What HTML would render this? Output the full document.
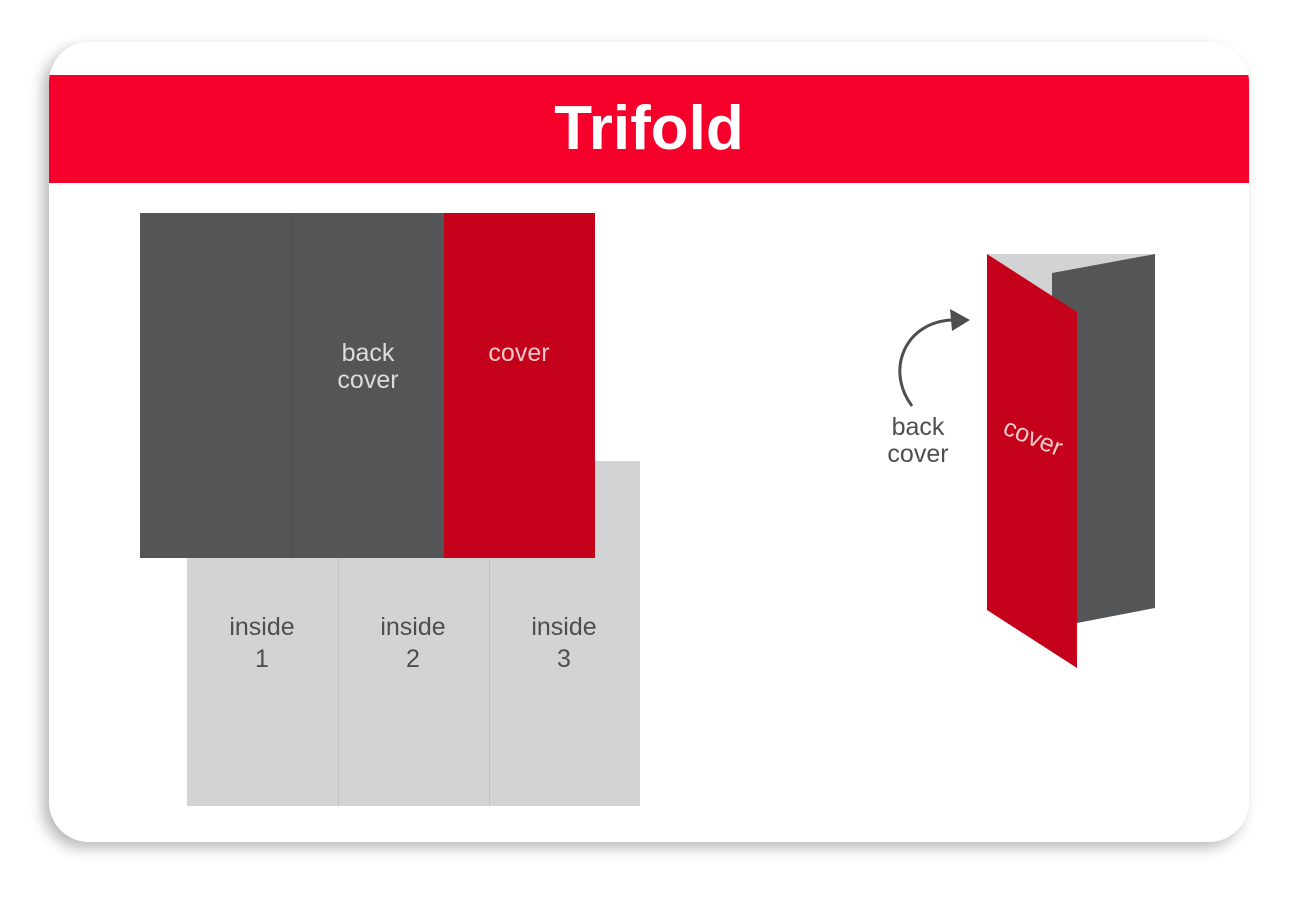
<!DOCTYPE html>
<html><head><meta charset="utf-8"><style>
html,body{margin:0;padding:0;background:#fff;}
body{width:1300px;height:900px;position:relative;overflow:hidden;font-family:"Liberation Sans",sans-serif;}
.card{position:absolute;left:49px;top:42px;width:1200px;height:800px;border-radius:40px;background:#fff;box-shadow:-6px 6px 14px rgba(0,0,0,0.28);overflow:hidden;}
.band{position:absolute;left:0;top:33px;width:1200px;height:108px;background:#f4002b;color:#fff;font-weight:bold;font-size:62px;text-align:center;line-height:108px;}
</style></head><body>
<div class="card"><div class="band">Trifold</div></div>
<svg width="1300" height="900" style="position:absolute;left:0;top:0" font-family="Liberation Sans, sans-serif">
<rect x="187" y="461" width="453" height="345" fill="#d2d3d5"/>
<line x1="338.5" y1="461" x2="338.5" y2="806" stroke="#bfc0c2"/>
<line x1="489.5" y1="461" x2="489.5" y2="806" stroke="#bfc0c2"/>
<rect x="140" y="213" width="304" height="345" fill="#545557"/>
<line x1="292" y1="213" x2="292" y2="558" stroke="#48494b"/>
<rect x="444" y="213" width="151" height="345" fill="#c5001a"/>
<g fill="#4d4e50" font-size="25" text-anchor="middle">
<text x="262" y="635">inside</text><text x="262" y="667">1</text>
<text x="413" y="635">inside</text><text x="413" y="667">2</text>
<text x="564" y="635">inside</text><text x="564" y="667">3</text>
</g>
<g font-size="25" text-anchor="middle">
<text x="368" y="361" fill="#dcdcdc">back</text><text x="368" y="388" fill="#dcdcdc">cover</text>
<text x="519" y="361" fill="#f3c9c9">cover</text>
</g>
<polygon points="987,254 1155,254 1052,273 1052,320 987,300" fill="#d2d3d5"/>
<polygon points="1052,273 1155,254 1155,608 1077,623 1052,620" fill="#545557"/>
<polygon points="987,254 1077,312 1077,668 987,610" fill="#c5001a"/>
<text x="1030" y="445" fill="#f3c9c9" font-size="25" text-anchor="middle" transform="rotate(22 1030 445)">cover</text>
<path d="M912,406 C885,370 905,322 952,320" fill="none" stroke="#4d4e50" stroke-width="3"/>
<polygon points="970,320 950,309 952,331" fill="#4d4e50"/>
<g fill="#4d4e50" font-size="25" text-anchor="middle">
<text x="918" y="435">back</text><text x="918" y="462">cover</text>
</g>
</svg>
</body></html>
